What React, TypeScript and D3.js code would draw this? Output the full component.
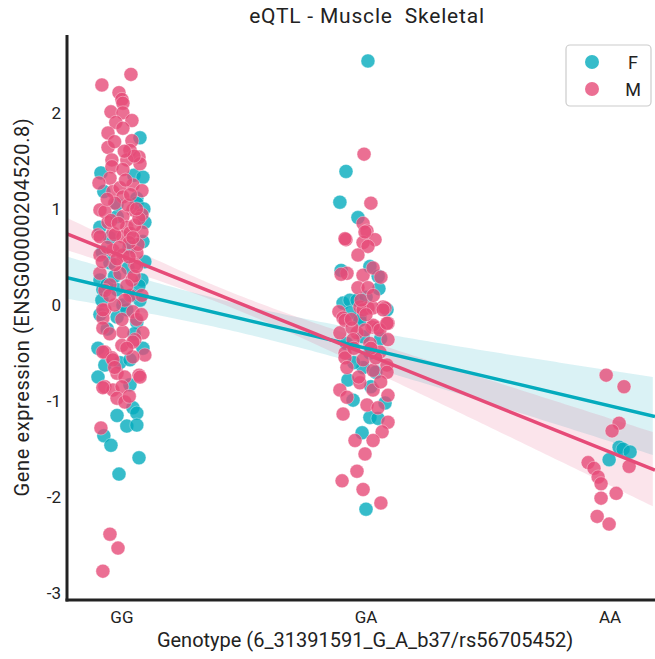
import React from "react";
import * as d3 from "d3";

const W = 655;
const H = 659;

const title = "eQTL - Muscle  Skeletal";
const xLabel = "Genotype (6_31391591_G_A_b37/rs56705452)";
const yLabel = "Gene expression (ENSG00000204520.8)";
const genotypes = ["GG", "GA", "AA"];
const yTicks = [-3, -2, -1, 0, 1, 2];
const sexes = ["F", "M"];

// [jitter, value]
const ggF = [
  [0.074, 1.74], [-0.086, 1.375], [0.049, 1.35], [0.086, 1.33], [-0.074, 1.18], [0.061, 1.11],
  [0.061, 1.06], [-0.02, 0.92], [-0.09, 0.81], [0.094, 0.86], [0.086, 0.66], [-0.049, 0.44],
  [0.082, 0.26], [-0.078, 0.16], [-0.02, 0.16], [-0.082, 0.05], [0.004, 0.0], [-0.02, -0.125],
  [0.061, -0.18], [-0.098, -0.45], [0.086, -0.45], [-0.008, -0.6], [0.033, -0.57], [-0.07, -0.625],
  [-0.098, -0.75], [0.033, -0.83], [0.045, -1.07], [-0.02, -1.15], [0.061, -1.125], [0.02, -1.26],
  [0.061, -1.25], [-0.074, -1.36], [-0.045, -1.46], [0.07, -1.59], [-0.012, -1.76],
  [-0.09, 0.26], [-0.061, 0.21], [0.074, 0.05], [0.025, 0.385], [0.094, 0.45],
  [-0.05, 0.7], [0.03, 0.6], [-0.08, 0.55], [0.07, 0.2], [-0.03, 0.3], [0.05, -0.3],
  [-0.06, -0.25], [0.02, -0.05], [0.09, 1.0], [-0.02, 1.05], [0.04, 0.1], [-0.09, -0.1],
];
const ggM = [
  [0.037, 2.4], [-0.082, 2.29], [-0.012, 2.21], [0, 2.14], [0.004, 2.1], [-0.045, 2.01],
  [0.004, 2.0], [0.041, 1.92], [-0.025, 1.9], [0.004, 1.84], [-0.057, 1.79], [0.041, 1.71],
  [0.033, 1.61], [-0.057, 1.64], [0.07, 1.54], [0.074, 1.47], [0.02, 1.51], [-0.041, 1.51],
  [-0.041, 1.44], [0.004, 1.41], [-0.049, 1.32], [-0.094, 1.27], [0.045, 1.25], [0.082, 1.19],
  [-0.037, 1.18], [-0.008, 1.22], [0.004, 1.125], [-0.029, 1.06], [-0.09, 0.99], [-0.07, 0.97],
  [0.045, 0.99], [0.082, 0.94], [0.004, 0.92], [0.02, 0.81], [0.082, 0.76], [-0.037, 0.75],
  [-0.098, 0.73], [0.004, 0.71], [-0.09, 0.71], [-0.029, 0.73], [0.033, 0.75], [-0.09, 0.52],
  [-0.037, 0.57], [0.004, 0.52], [0.061, 0.54], [-0.09, 0.33], [-0.008, 0.33], [0.041, 0.26],
  [0.033, 0.1], [0.082, 0.1], [-0.07, -0.05], [0.045, -0.07], [-0.078, -0.135], [-0.078, -0.24],
  [0.004, -0.28], [0.086, -0.29], [0.053, -0.36], [0, -0.42], [-0.07, -0.49], [-0.041, -0.55],
  [0.094, -0.52], [0.045, -0.54], [-0.02, -0.71], [0.012, -0.75], [0.07, -0.73], [-0.07, -0.85],
  [-0.037, -0.885], [0, -0.85], [-0.02, -0.97], [0.012, -1.01], [-0.078, -0.49], [-0.037, -0.57],
  [0.074, -0.75], [-0.078, -0.86], [-0.086, -1.28], [-0.049, -2.385], [-0.016, -2.53], [-0.078, -2.77],
  [-0.078, -0.05], [0.045, -0.385], [-0.029, 0.42], [0.053, 0.42], [-0.049, 0.21], [0.012, 0.05],
  [0.066, 0.63], [0.025, 1.04], [-0.057, 0.86], [0.053, 0.83],
  [-0.06, 0.6], [0.03, 0.65], [-0.02, 0.48], [0.05, 0.3], [-0.07, 0.15], [0.02, 0.2],
  [-0.03, 0.0], [0.06, -0.15], [-0.05, -0.3], [0.02, -0.45], [0.07, 0.9], [-0.045, 0.88],
  [0.015, 1.3], [-0.06, 1.1], [0.035, 1.15], [0.06, 0.4], [-0.01, 0.6], [0.045, 0.7],
  [-0.08, 0.45], [0.0, -0.15], [-0.03, -0.65], [0.03, -0.95], [0.05, 1.55], [-0.03, 1.7],
  [0.06, 1.0], [-0.015, 0.85], [0.03, 0.5], [-0.05, 0.1], [0.08, -0.1], [0.01, 1.6],
];
const gaF = [
  [0.008, 2.54], [-0.082, 1.39], [-0.107, 1.07], [-0.033, 0.91], [-0.102, 0.36], [0.016, 0.4],
  [0.053, 0.17], [-0.094, 0.02], [-0.066, 0.05], [0.086, -0.05], [-0.025, -0.125], [-0.037, 0.05],
  [-0.066, -0.08], [-0.025, -0.16], [-0.012, -0.33], [0.016, -0.5], [-0.074, -0.78], [-0.053, -0.99],
  [0.078, -1.02], [0.016, -1.17], [0.049, -1.18], [-0.016, -1.33], [0, -2.125], [-0.012, -0.65],
  [0.0, 0.08], [0.04, -0.7], [-0.05, -0.6], [0.06, -0.35], [-0.08, -0.4], [0.02, -0.85], [0.05, 0.3],
];
const gaM = [
  [-0.008, 1.57], [0.02, 1.06], [-0.012, 0.85], [0.004, 0.77], [-0.082, 0.68], [0.037, 0.68],
  [-0.012, 0.65], [0.008, 0.61], [-0.033, 0.52], [-0.078, 0.33], [-0.102, 0.32], [-0.012, 0.31],
  [0.029, 0.385], [0.061, 0.29], [-0.033, 0.18], [0.008, 0.18], [-0.025, -0.02], [0.008, -0.03],
  [0.07, -0.02], [-0.111, -0.07], [-0.094, -0.135], [0.09, -0.19], [0.025, -0.23], [0.049, -0.24],
  [-0.037, -0.29], [-0.107, -0.29], [-0.086, 0.69], [-0.004, 0.76], [-0.012, -0.05], [0.029, -0.03],
  [0.078, -0.03], [-0.086, -0.16], [0.029, -0.21], [-0.057, -0.24], [-0.004, -0.26], [0.057, -0.26],
  [-0.053, -0.36], [0.09, -0.36], [0.016, -0.4], [-0.086, -0.5], [0.057, -0.49], [0.086, -0.19],
  [-0.086, -0.55], [-0.012, -0.57], [-0.078, -0.65], [0.029, -0.68], [0.086, -0.625], [0.086, -0.7],
  [-0.025, -0.81], [-0.107, -0.885], [0.029, -0.885], [-0.078, -0.96], [0.09, -0.94], [0.004, -1.04],
  [0.049, -1.07], [0.09, -1.22], [-0.094, -1.135], [-0.045, -1.41], [0.066, -1.32], [0.029, -1.41],
  [-0.004, -1.55], [-0.037, -1.73], [-0.098, -1.83], [-0.012, -1.92], [0.061, -2.06],
  [0.0, -0.1], [-0.05, -0.45], [0.04, -0.55], [-0.02, 0.05], [0.06, -0.8], [-0.06, -0.15],
  [0.03, 0.1], [-0.03, -0.75], [0.02, -0.45], [0.07, -0.05],
];
const aaF = [
  [0.037, -1.48], [0.053, -1.5], [0.082, -1.53], [-0.004, -1.61],
];
const aaM = [
  [-0.016, -0.73], [0.057, -0.85], [0.037, -1.23], [0.008, -1.31], [0.078, -1.68], [-0.09, -1.64],
  [-0.066, -1.7], [-0.049, -1.79], [-0.037, -1.86], [0.025, -1.96], [-0.037, -2.01], [-0.053, -2.2],
  [-0.004, -2.28],
];

// regression fits: [intercept, slope]; confidence band: [a2, b2, x0]
const fitF = [0.15, -0.6];
const fitM = [0.51, -1.02];
const ciF = [0.0216, 0.051, 0.5];
const ciM = [0.0063, 0.048, 0.45];

const colF = "#04abbd";
const colM = "#e64b78";

const xScale = d3.scaleLinear().domain([-0.225, 2.184]).range([67, 655]);
const yScale = d3.scaleLinear().domain([-3.07, 2.81]).range([600, 35]);

function toPts(groups: number[][][]) {
  const out: { x: number; y: number }[] = [];
  groups.forEach((g, gi) => g.forEach(([j, v]) => out.push({ x: gi + j, y: v })));
  return out;
}

const ptsF = toPts([ggF, gaF, aaF]);
const ptsM = toPts([ggM, gaM, aaM]);

function band(fit: number[], ci: number[]) {
  const xs = d3.range(-0.225, 2.19, 0.02);
  const area = d3
    .area<number>()
    .x((x) => xScale(x))
    .y0((x) => yScale(fit[0] + fit[1] * x - Math.sqrt(ci[0] + ci[1] * (x - ci[2]) ** 2)))
    .y1((x) => yScale(fit[0] + fit[1] * x + Math.sqrt(ci[0] + ci[1] * (x - ci[2]) ** 2)));
  return area(xs) || "";
}

function line(fit: number[]) {
  const xs = [-0.225, 2.184];
  const l = d3
    .line<number>()
    .x((x) => xScale(x))
    .y((x) => yScale(fit[0] + fit[1] * x));
  return l(xs) || "";
}

const font = "Roboto, 'DejaVu Sans', sans-serif";

export default function App() {
  return (
    <svg
      width={W}
      height={H}
      style={{ position: "absolute", left: 0, top: 0, background: "#fff" }}
      fontFamily={font}
    >
      <defs>
        <clipPath id="plot">
          <rect x={67} y={35} width={588} height={565} />
        </clipPath>
      </defs>
      <g clipPath="url(#plot)">
        <path d={band(fitF, ciF)} fill={colF} fillOpacity={0.15} />
        <path d={band(fitM, ciM)} fill={colM} fillOpacity={0.15} />
        {ptsF.map((p, i) => (
          <circle
            key={"f" + i}
            cx={xScale(p.x)}
            cy={yScale(p.y)}
            r={7}
            fill={colF}
            fillOpacity={0.8}
            stroke="#fff"
            strokeOpacity={0.35}
            strokeWidth={1}
          />
        ))}
        {ptsM.map((p, i) => (
          <circle
            key={"m" + i}
            cx={xScale(p.x)}
            cy={yScale(p.y)}
            r={7}
            fill={colM}
            fillOpacity={0.8}
            stroke="#fff"
            strokeOpacity={0.35}
            strokeWidth={1}
          />
        ))}
        <path d={line(fitF)} stroke={colF} strokeWidth={3.5} fill="none" />
        <path d={line(fitM)} stroke={colM} strokeWidth={3.5} fill="none" />
      </g>
      <line x1={67} x2={67} y1={35} y2={601.5} stroke="#222" strokeWidth={3} />
      <line x1={65.5} x2={655} y1={600} y2={600} stroke="#222" strokeWidth={3} />
      {yTicks.map((t) => (
        <text
          key={t}
          x={61}
          y={yScale(t)}
          textAnchor="end"
          dominantBaseline="central"
          fontSize={17}
          fill="#222"
        >
          {t}
        </text>
      ))}
      {genotypes.map((g, i) => (
        <text
          key={g}
          x={xScale(i)}
          y={617}
          textAnchor="middle"
          dominantBaseline="central"
          fontSize={17}
          fill="#222"
        >
          {g}
        </text>
      ))}
      <text x={365} y={640} textAnchor="middle" dominantBaseline="central" fontSize={20} fill="#222">
        {xLabel}
      </text>
      <text
        transform={`translate(22,307) rotate(-90)`}
        textAnchor="middle"
        dominantBaseline="central"
        fontSize={20}
        letterSpacing={0.6}
        fill="#222"
      >
        {yLabel}
      </text>
      <text
        x={367}
        y={16}
        textAnchor="middle"
        dominantBaseline="central"
        fontSize={21}
        letterSpacing={0.8}
        style={{ whiteSpace: "pre" }}
        fill="#222"
      >
        {title}
      </text>
      <rect x={566} y={45} width={85} height={61} rx={4} fill="#fff" stroke="#ccc" strokeWidth={1.2} />
      {sexes.map((s, i) => (
        <g key={s}>
          <circle cx={592} cy={62 + i * 27} r={7} fill={i === 0 ? colF : colM} fillOpacity={0.8} />
          <text
            x={633}
            y={62 + i * 27}
            textAnchor="middle"
            dominantBaseline="central"
            fontSize={18}
            fill="#222"
          >
            {s}
          </text>
        </g>
      ))}
    </svg>
  );
}
